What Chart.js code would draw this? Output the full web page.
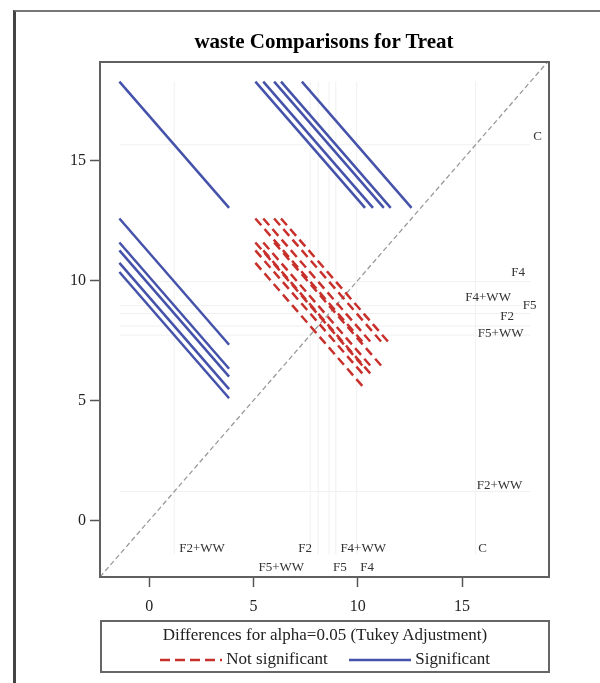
<!DOCTYPE html>
<html>
<head>
<meta charset="utf-8">
<script src="https://cdn.jsdelivr.net/npm/chart.js@4.4.1/dist/chart.umd.min.js"></script>
<style>
  body { margin: 0; background: #fff; font-family: "Liberation Serif", serif; }
  #wrap { position: relative; width: 600px; height: 683px; overflow: hidden; }
  #frame { position: absolute; left: 13px; top: 10px; width: 700px; height: 800px;
           border-left: 3px solid #444; border-top: 2px solid #777; }
  #title { position: absolute; left: 0; width: 648px; top: 29px; text-align: center;
           font: bold 21px "Liberation Serif", serif; color: #000; }
  #legend { position: absolute; left: 100px; top: 620px; width: 446px; height: 49px;
            border: 2px solid #666; font: 17px "Liberation Serif", serif; color: #222; }
  #legend .l1 { position: absolute; left: 0; width: 100%; top: 3px; text-align: center; }
  #legend .l2 { position: absolute; left: 0; width: 100%; top: 27px; text-align: center; white-space: nowrap; }
  #legend svg { vertical-align: middle; }
  canvas { position: absolute; left: 0; top: 0; }
</style>
</head>
<body>
<div id="wrap">
  <div id="frame"></div>
  <canvas id="diffogram" width="600" height="683"></canvas>
  <div id="title">waste Comparisons for Treat</div>
  <div id="legend">
    <div class="l1">Differences for alpha=0.05 (Tukey Adjustment)</div>
    <div class="l2">
      <svg width="62" height="6"><line x1="0" y1="3" x2="62" y2="3" stroke="#c8302c" stroke-width="2.5" stroke-dasharray="10,5"/></svg>
      Not significant&nbsp;&nbsp;&nbsp;&nbsp;
      <svg width="62" height="6"><line x1="0" y1="3" x2="62" y2="3" stroke="#4452aa" stroke-width="2.5"/></svg>
      Significant
    </div>
  </div>
</div>
<script>
// treatment LS-means (sorted low to high)
const treatments = ["F2+WW", "F5+WW", "F2", "F5", "F4+WW", "F4", "C"];
const means = [1.2, 7.72, 8.1, 8.62, 8.95, 9.95, 15.65];
// half length of each comparison segment along an axis (Tukey interval)
const ciHalf = 2.63;

const axisMin = [-2.36, -2.36];
const axisMax = [19.17, 19.1];
const tickValues = [0, 5, 10, 15];

// where SAS put the level names (data coords of label centre)
const bottomLabels = [
  ["F2+WW", 2.53, -1.17], ["F5+WW", 6.33, -1.96], ["F2", 7.48, -1.17],
  ["F5", 9.14, -1.96], ["F4+WW", 10.26, -1.17], ["F4", 10.45, -1.96], ["C", 15.99, -1.17]
];
const rightLabels = [
  ["C", 18.62, 16.0], ["F4", 17.69, 10.33], ["F4+WW", 16.25, 9.29], ["F5", 18.24, 8.96],
  ["F2", 17.16, 8.5], ["F5+WW", 16.85, 7.79], ["F2+WW", 16.8, 1.46]
];

const RED = "#c8302c", BLUE = "#4452aa";

function buildDatasets() {
  const sets = [];
  const lo = Math.min(...means) - ciHalf, hi = Math.max(...means) + ciHalf;

  // faint reference lines at each mean
  means.forEach(m => {
    sets.push({ data: [{ x: m, y: lo }, { x: m, y: hi }], borderColor: "#f0f0f0", borderWidth: 1, order: 4 });
    sets.push({ data: [{ x: lo, y: m }, { x: hi, y: m }], borderColor: "#f0f0f0", borderWidth: 1, order: 4 });
  });

  // diagonal
  sets.push({
    data: [{ x: axisMin[0], y: axisMin[0] }, { x: axisMax[0], y: axisMax[0] }],
    borderColor: "#9a9a9a", borderWidth: 1.3, borderDash: [5, 3], order: 3
  });

  // one segment per pair, centred on (lower mean, higher mean)
  for (let i = 0; i < means.length; i++) {
    for (let j = i + 1; j < means.length; j++) {
      const cx = means[i], cy = means[j];
      const sig = (cy - cx) > 2 * ciHalf;
      sets.push({
        data: [{ x: cx - ciHalf, y: cy + ciHalf }, { x: cx + ciHalf, y: cy - ciHalf }],
        borderColor: sig ? BLUE : RED,
        borderWidth: 2.5,
        borderDash: sig ? [] : [9, 5],
        order: sig ? 1 : 2
      });
    }
  }
  sets.forEach(s => { s.showLine = true; s.pointRadius = 0; s.fill = false; });
  return sets;
}

const levelLabels = {
  id: "levelLabels",
  afterDraw(chart) {
    const { ctx, chartArea: a, scales: { x, y } } = chart;
    ctx.save();
    ctx.strokeStyle = "#606060";
    ctx.lineWidth = 2;
    ctx.strokeRect(a.left, a.top, a.right - a.left, a.bottom - a.top);
    ctx.font = "13px 'Liberation Serif'";
    ctx.fillStyle = "#333";
    ctx.textAlign = "center";
    ctx.textBaseline = "middle";
    bottomLabels.concat(rightLabels).forEach(([t, vx, vy]) => {
      ctx.fillText(t, x.getPixelForValue(vx), y.getPixelForValue(vy));
    });
    ctx.restore();
  }
};

function axis(i, fit) {
  return {
    type: "linear",
    min: axisMin[i],
    max: axisMax[i],
    afterBuildTicks: s => { s.ticks = tickValues.map(v => ({ value: v })); },
    afterFit: fit,
    border: { display: false },
    grid: { drawOnChartArea: false, drawTicks: true, tickLength: 10, tickColor: "#555", tickWidth: 1.5 },
    ticks: {
      color: "#222",
      font: { family: "Liberation Serif", size: 16 },
      padding: i === 0 ? 10 : 4
    }
  };
}

new Chart(document.getElementById("diffogram"), {
  type: "scatter",
  data: { datasets: buildDatasets() },
  options: {
    responsive: false,
    animation: false,
    devicePixelRatio: 1,
    layout: { padding: { top: 62, right: 51, bottom: 62, left: 0 } },
    plugins: { legend: { display: false }, tooltip: { enabled: false }, title: { display: false } },
    elements: { line: { tension: 0 } },
    scales: {
      x: axis(0, s => { s.height = 44; }),
      y: axis(1, s => { s.width = 100; })
    }
  },
  plugins: [levelLabels]
});
</script>
</body>
</html>
